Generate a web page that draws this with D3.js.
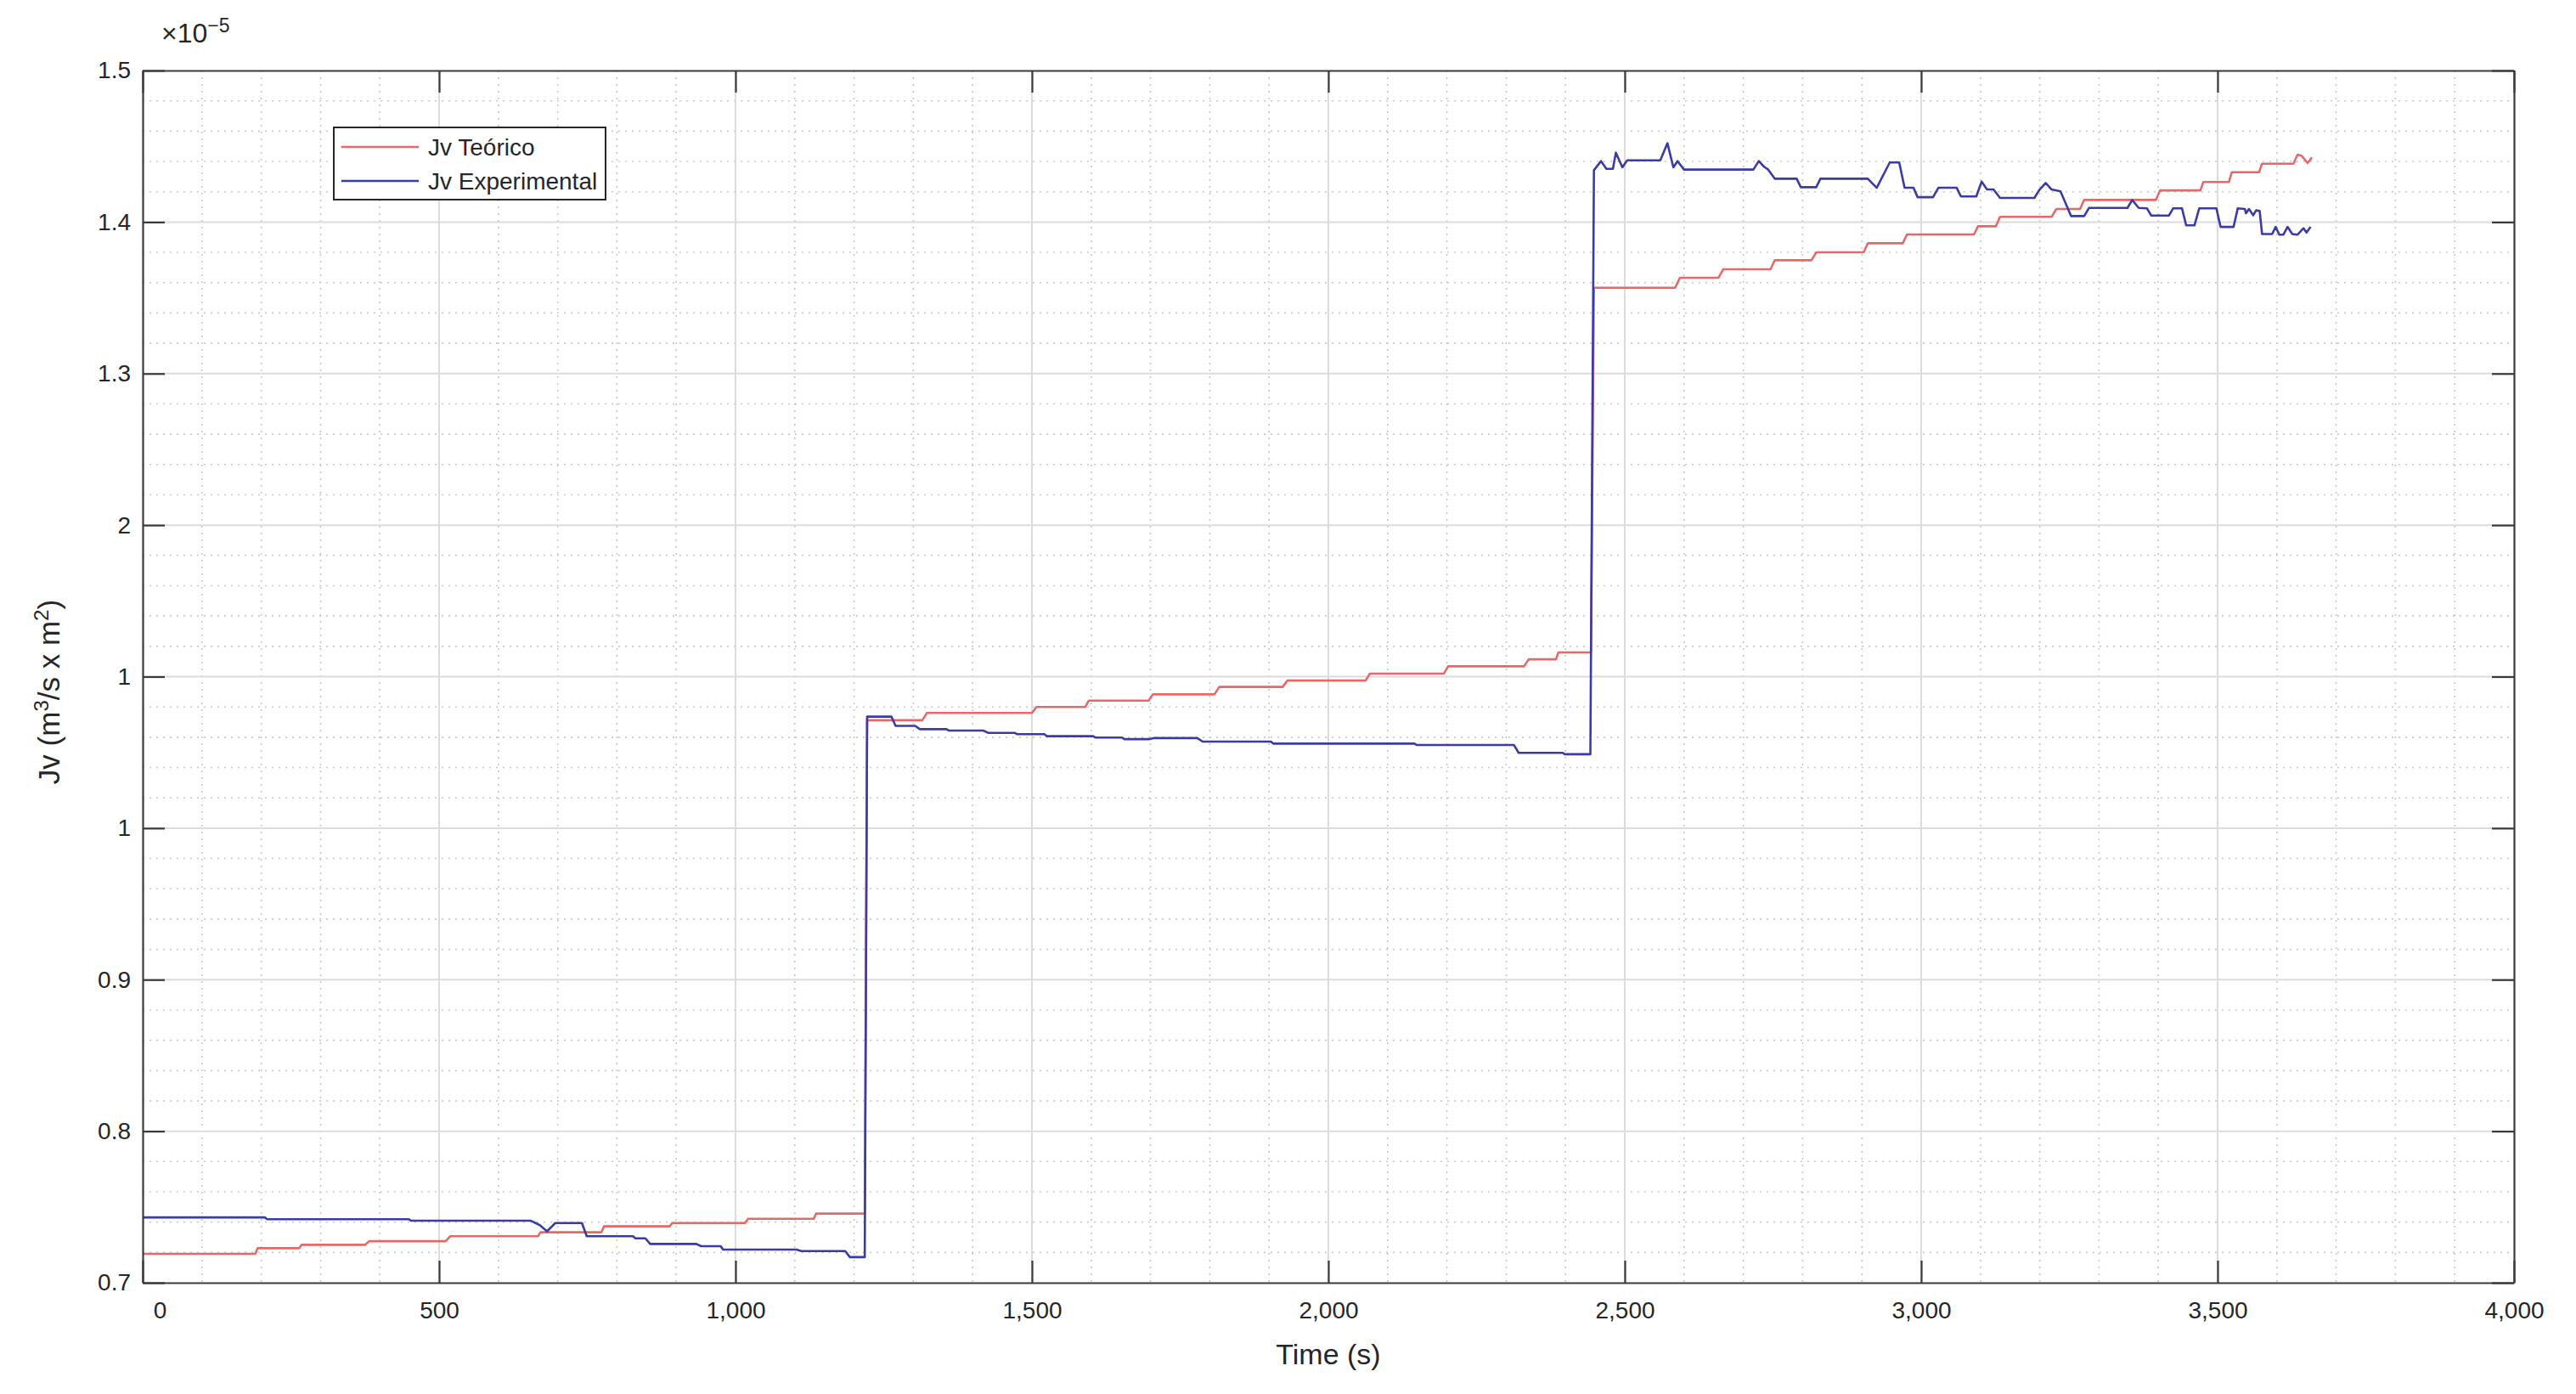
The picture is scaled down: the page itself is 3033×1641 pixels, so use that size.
<!DOCTYPE html>
<html>
<head>
<meta charset="utf-8">
<script src="https://cdn.jsdelivr.net/npm/d3@7"></script>
<style>
  body { margin: 0; background: #fff; }
  text { font-family: "Liberation Sans", Arial, sans-serif; fill: #262626; }
</style>
</head>
<body>
<div id="chart"></div>
<script>
var width = 3033,
    height = 1641;

// tick values and the labels as printed on the figure
var xTicks = [0, 500, 1000, 1500, 2000, 2500, 3000, 3500, 4000];
var yTicks = [0.7, 0.8, 0.9, 1.0, 1.1, 1.2, 1.3, 1.4, 1.5];
var yTickLabels = ["0.7", "0.8", "0.9", "1", "1", "2", "1.3", "1.4", "1.5"];

var seriesNames = ["Jv Teórico", "Jv Experimental"];

// Jv Teórico (x10^-5)
var tTeorico = [0,190,194,264,268,375,382,511,519,667,671,774,778,889,893,1016,1021,1132,1136,1218,
  1222,1315,1323,1500,1508,1590,1596,1697,1704,1808,1816,1923,1931,2063,2070,2195,2202,2330,2338,2384,2388,2443,
  2448,2585,2593,2658,2666,2746,2753,2815,2823,2903,2910,2969,2976,3089,3096,3126,3133,3220,3228,3268,3275,3396,
  3403,3471,3476,3519,3524,3570,3575,3628,3635,3642,3652,3659];
var jvTeorico = [0.7191,0.7191,0.7228,0.7228,0.725,0.725,0.7274,0.7274,0.7307,0.7307,0.7333,0.7333,0.7372,0.7372,0.7394,0.7394,0.7422,0.7422,0.7456,0.7456,
  1.0712,1.0712,1.076,1.076,1.08,1.08,1.0842,1.0842,1.0883,1.0883,1.0932,1.0932,1.0974,1.0974,1.102,1.102,1.1068,1.1068,1.1114,1.1114,1.116,1.116,
  1.3566,1.3566,1.3632,1.3632,1.3688,1.3688,1.3748,1.3748,1.38,1.38,1.386,1.386,1.3918,1.3918,1.3972,1.3972,1.4034,1.4034,1.4086,1.4086,1.4146,1.4146,
  1.4209,1.4209,1.4264,1.4264,1.4329,1.4329,1.4385,1.4385,1.4445,1.4436,1.4389,1.4426];

// Jv Experimental (x10^-5)
var tExperimental = [0,206,210,449,453,655,670,682,696,741,749,827,831,848,856,934,942,975,979,1103,1111,1185,1193,1218,
  1222,1263,1270,1303,1311,1356,1360,1418,1426,1471,1475,1521,1525,1603,1607,1652,1656,1697,1705,1779,1788,1903,1907,2145,2149,2313,2321,2395,2399,2442,
  2448,2460,2469,2480,2485,2496,2504,2560,2572,2582,2589,2600,2717,2726,2735,2742,2753,2790,2797,2823,2830,2910,2925,2947,2963,2972,2987,2994,3020,
  3029,3060,3067,3093,3102,3111,3122,3133,3191,3199,3210,3220,3235,3253,3275,3283,3348,3356,3367,3381,3388,3418,3425,3440,3447,3461,3469,3498,
  3505,3527,3534,3546,3548,3553,3560,3565,3571,3575,3592,3598,3604,3611,3618,3626,3635,3645,3650,3657];
var jvExperimental = [0.7431,0.7431,0.7419,0.7419,0.7409,0.7409,0.738,0.7339,0.7394,0.7394,0.7307,0.7307,0.7293,0.7293,0.7256,0.7256,0.7241,0.7241,0.7219,0.7219,0.7209,0.7209,0.7169,0.7169,
  1.0736,1.0736,1.0675,1.0675,1.0653,1.0653,1.0644,1.0644,1.0629,1.0629,1.062,1.062,1.0607,1.0607,1.0598,1.0598,1.0587,1.0587,1.0594,1.0594,1.0571,1.0571,1.0558,1.0558,1.0549,1.0549,1.0497,1.0497,1.0488,1.0488,
  1.4342,1.4402,1.4351,1.4351,1.4458,1.4361,1.4407,1.4407,1.452,1.4361,1.4402,1.4346,1.4346,1.4402,1.4365,1.4346,1.4286,1.4286,1.423,1.423,1.4286,1.4286,1.4226,1.4393,1.4393,1.4226,1.4226,1.4164,1.4164,
  1.4226,1.4226,1.4169,1.4169,1.4267,1.4215,1.4215,1.4159,1.4159,1.421,1.4258,1.4215,1.4202,1.4039,1.4039,1.4093,1.4093,1.4146,1.4093,1.409,1.4043,1.4043,1.409,1.409,1.3978,1.3978,1.409,1.409,
  1.3968,1.3968,1.409,1.4086,1.4058,1.4086,1.4045,1.4077,1.4073,1.3921,1.3921,1.3968,1.3917,1.3917,1.3968,1.3921,1.3917,1.3959,1.3931,1.3968];

var colors = ["#e46a6a", "#3b3ba6"];

var margin = {left: 168, top: 83, right: width - 2960, bottom: height - 1510};
var w = width - margin.left - margin.right,
    h = height - margin.top - margin.bottom;

var svg = d3.select("#chart").append("svg")
  .attr("width", width)
  .attr("height", height);

var g = svg.append("g")
  .attr("transform", "translate(" + margin.left + "," + margin.top + ")");

var x = d3.scaleLinear().domain([0, 4000]).range([0, w]);
var y = d3.scaleLinear().domain([0.7, 1.5]).range([h, 0]);

// minor grid (dotted)
var xMinor = d3.range(100, 4000, 100).filter(function(d) { return d % 500 !== 0; });
var yMinor = d3.range(0.72, 1.5, 0.02).filter(function(d) { return Math.abs(d * 10 - Math.round(d * 10)) > 0.01; });

g.selectAll(".xminor").data(xMinor).enter().append("line")
  .attr("x1", function(d) { return x(d); }).attr("x2", function(d) { return x(d); })
  .attr("y1", 0).attr("y2", h)
  .attr("stroke", "#c8c8c8").attr("stroke-width", 1.6).attr("stroke-dasharray", "2,6");
g.selectAll(".yminor").data(yMinor).enter().append("line")
  .attr("y1", function(d) { return y(d); }).attr("y2", function(d) { return y(d); })
  .attr("x1", 0).attr("x2", w)
  .attr("stroke", "#c8c8c8").attr("stroke-width", 1.6).attr("stroke-dasharray", "2,6");

// major grid
g.selectAll(".xgrid").data(xTicks.slice(1, -1)).enter().append("line")
  .attr("x1", function(d) { return x(d); }).attr("x2", function(d) { return x(d); })
  .attr("y1", 0).attr("y2", h)
  .attr("stroke", "#dcdcdc").attr("stroke-width", 2);
g.selectAll(".ygrid").data(yTicks.slice(1, -1)).enter().append("line")
  .attr("y1", function(d) { return y(d); }).attr("y2", function(d) { return y(d); })
  .attr("x1", 0).attr("x2", w)
  .attr("stroke", "#dcdcdc").attr("stroke-width", 2);

// series
var line = d3.line()
  .x(function(d) { return x(d[0]); })
  .y(function(d) { return y(d[1]); });

var series = [
  d3.zip(tTeorico, jvTeorico),
  d3.zip(tExperimental, jvExperimental)
];

g.selectAll(".serie").data(series).enter().append("path")
  .attr("d", line)
  .attr("fill", "none")
  .attr("stroke", function(d, i) { return colors[i]; })
  .attr("stroke-width", 2.6)
  .attr("stroke-linejoin", "round");

// axes (ticks inside, box all around)
var fmt = d3.format(",");
var xAxis = g.append("g").attr("transform", "translate(0," + h + ")")
  .call(d3.axisBottom(x).tickValues(xTicks).tickFormat(fmt).tickSizeInner(-26).tickSizeOuter(0).tickPadding(22));
var xTop = g.append("g")
  .call(d3.axisTop(x).tickValues(xTicks).tickFormat("").tickSizeInner(-26).tickSizeOuter(0));
var yAxis = g.append("g")
  .call(d3.axisLeft(y).tickValues(yTicks).tickFormat(function(d, i) { return yTickLabels[i]; }).tickSizeInner(-26).tickSizeOuter(0).tickPadding(14));
var yRight = g.append("g").attr("transform", "translate(" + w + ",0)")
  .call(d3.axisRight(y).tickValues(yTicks).tickFormat("").tickSizeInner(-26).tickSizeOuter(0));

[xAxis, xTop, yAxis, yRight].forEach(function(a) {
  a.select(".domain").attr("stroke", "#3a3a3a").attr("stroke-width", 2.2);
  a.selectAll(".tick line").attr("stroke", "#3a3a3a").attr("stroke-width", 2.2);
  a.selectAll(".tick text").attr("font-size", 28).attr("fill", "#262626")
    .attr("font-family", "'Liberation Sans', Arial, sans-serif");
});
// first x label sits a little to the right, as in the figure
xAxis.selectAll(".tick text").filter(function(d) { return d === 0; }).attr("dx", 20);

// exponent label
var expo = svg.append("text")
  .attr("x", margin.left + 22).attr("y", 50)
  .attr("font-size", 32);
expo.append("tspan").text("×10");
expo.append("tspan").attr("dy", -12).attr("font-size", 23).text("−5");

// axis titles
svg.append("text")
  .attr("x", margin.left + w / 2).attr("y", 1606)
  .attr("text-anchor", "middle").attr("font-size", 34)
  .text("Time (s)");

var yl = svg.append("text")
  .attr("transform", "translate(70," + (margin.top + h / 2 + 18) + ") rotate(-90)")
  .attr("text-anchor", "middle").attr("font-size", 35);
yl.append("tspan").text("Jv (m");
yl.append("tspan").attr("dy", -13).attr("font-size", 24).text("3");
yl.append("tspan").attr("dy", 13).text("/s x m");
yl.append("tspan").attr("dy", -13).attr("font-size", 24).text("2");
yl.append("tspan").attr("dy", 13).text(")");

// legend
var lg = svg.append("g").attr("transform", "translate(393,150)");
lg.append("rect").attr("width", 320).attr("height", 85)
  .attr("fill", "#fff").attr("stroke", "#262626").attr("stroke-width", 2);
seriesNames.forEach(function(name, i) {
  var yy = 23 + i * 40;
  lg.append("line").attr("x1", 9).attr("x2", 100).attr("y1", yy).attr("y2", yy)
    .attr("stroke", colors[i]).attr("stroke-width", 2.6);
  lg.append("text").attr("x", 111).attr("y", yy + 10).attr("font-size", 28).text(name);
});
</script>
</body>
</html>
